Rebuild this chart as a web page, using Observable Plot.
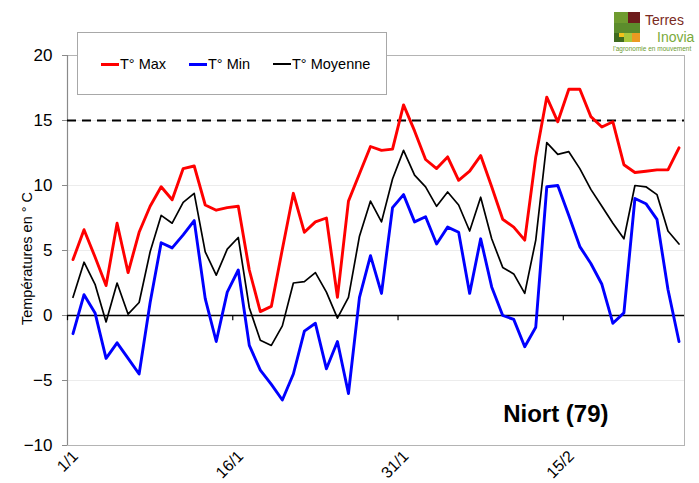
<!DOCTYPE html>
<html><head><meta charset="utf-8">
<script src="https://cdn.jsdelivr.net/npm/d3@7"></script>
<script src="https://cdn.jsdelivr.net/npm/@observablehq/plot@0.6"></script>
<style>
body{margin:0;background:#fff;font-family:"Liberation Sans",Arial,sans-serif;}
#wrap{position:relative;width:699px;height:483px;overflow:hidden;background:#fff;}
#legend{position:absolute;left:77px;top:32px;width:310px;height:63px;border:1px solid #a8a8a8;background:#fff;box-sizing:border-box;}
.item{position:absolute;top:23px;font-size:14.5px;line-height:16px;color:#000;white-space:nowrap;}
.sw{display:inline-block;width:18px;height:0;vertical-align:middle;margin-right:1px;position:relative;top:-1px;}
#logo{position:absolute;left:612px;top:10px;width:90px;height:46px;}
.blk{position:absolute;}
.lt{position:absolute;font-family:"Liberation Sans",Arial,sans-serif;white-space:nowrap;}
</style></head><body><div id="wrap"></div>
<script>
// ---- data ----
const startDate = "2016-01-01";
const endDate = "2016-02-26";
const tMax = [4.3,6.6,4.5,2.3,7.1,3.3,6.4,8.4,9.9,8.9,11.3,11.5,8.5,8.1,8.3,8.4,3.5,0.3,0.7,5.1,9.4,6.4,7.2,7.5,1.4,8.8,10.9,13.0,12.7,12.8,16.2,14.2,12.0,11.3,12.2,10.4,11.1,12.3,9.9,7.4,6.8,5.8,12.2,16.8,14.9,17.4,17.4,15.3,14.5,14.9,11.6,11.0,11.1,11.2,11.2,12.9];
const tMin = [-1.4,1.6,0.2,-3.3,-2.1,-3.3,-4.5,1.0,5.6,5.2,6.2,7.3,1.3,-2.0,1.8,3.5,-2.3,-4.2,-5.3,-6.5,-4.5,-1.2,-0.6,-4.1,-2.0,-6.0,1.4,4.6,1.7,8.3,9.3,7.2,7.6,5.5,6.8,6.4,1.7,5.9,2.2,0.0,-0.3,-2.4,-0.9,9.9,10.0,7.7,5.3,4.0,2.4,-0.6,0.2,9.0,8.6,7.4,2.0,-2.0];
const tMoy = [1.4,4.1,2.4,-0.5,2.5,0.1,1.0,4.9,7.7,7.1,8.7,9.4,4.9,3.1,5.1,6.0,0.6,-1.9,-2.3,-0.8,2.5,2.6,3.3,1.8,-0.2,1.4,6.1,8.8,7.2,10.5,12.7,10.8,9.9,8.4,9.5,8.5,6.5,9.1,5.9,3.7,3.2,1.7,5.8,13.3,12.4,12.6,11.3,9.7,8.4,7.1,5.9,10.0,9.9,9.3,6.5,5.5];
const seriesNames = ["T° Max","T° Min","T° Moyenne"];
const seriesColors = ["#ff0000","#0000ff","#000000"];
const tickDates = ["2016-01-01","2016-01-16","2016-01-31","2016-02-15"];
const yTicks = [-10,-5,0,5,10,15,20];
const threshold = [15];
const zeroLine = [0];
const yTitle = ["Températures en ° C"];
const station = ["Niort (79)"];

// ---- build table ----
const start = new Date(startDate);
const rows = tMax.map((v, i) => ({
  date: d3.utcHour.offset(d3.utcDay.offset(start, i), 12),
  tmax: v, tmin: tMin[i], tmoy: tMoy[i]
}));
const ticks = tickDates.map(s => new Date(s));
const fmt = d3.utcFormat("%-d/%-m");

const chart = Plot.plot({
  width: 699, height: 483,
  marginLeft: 67, marginRight: 15, marginTop: 55, marginBottom: 38,
  style: {fontFamily: "'Liberation Sans', Arial, sans-serif", background: "#fff", color: "#000"},
  x: {type: "utc", domain: [new Date(startDate), new Date(endDate)]},
  y: {domain: [-10, 20]},
  marks: [
    Plot.gridY(yTicks, {stroke: "#ececec", strokeOpacity: 1}),
    Plot.frame({stroke: "#b4b4b4"}),
    Plot.ruleX([new Date(startDate)], {stroke: "#8a8a8a", strokeWidth: 1.2}),
    Plot.axisY({ticks: yTicks, tickSize: 5, tickPadding: 10, fontSize: 17, stroke: "#8a8a8a", label: null}),
    Plot.axisX({ticks: ticks, tickFormat: fmt, tickRotate: -45, tickSize: 0, tickPadding: 8, dx: 8, fontSize: 16, label: null}),
    Plot.ruleY(threshold, {stroke: "#000", strokeWidth: 2, strokeDasharray: "9,6"}),
    Plot.ruleY(zeroLine, {stroke: "#000", strokeWidth: 1.6}),
    Plot.ruleX(ticks, {x: d => d, y1: 0, y2: -0.4, stroke: "#000", strokeWidth: 1.2}),
    Plot.line(rows, {x: "date", y: "tmoy", stroke: seriesColors[2], strokeWidth: 1.7}),
    Plot.line(rows, {x: "date", y: "tmin", stroke: seriesColors[1], strokeWidth: 2.9}),
    Plot.line(rows, {x: "date", y: "tmax", stroke: seriesColors[0], strokeWidth: 2.9}),
    Plot.text(yTitle, {frameAnchor: "left", rotate: -90, dx: -40, dy: 8, fontSize: 14.5, textAnchor: "middle"}),
    Plot.text(station, {frameAnchor: "bottom-right", textAnchor: "end", lineAnchor: "bottom", dx: -76, dy: -24, fontSize: 24, fontWeight: "bold"})
  ]
});

const wrap = document.getElementById("wrap");
wrap.appendChild(chart);

// legend
const lg = document.createElement("div");
lg.id = "legend";
const lefts = [23, 111, 195];
seriesNames.forEach((n, i) => {
  const it = document.createElement("div");
  it.className = "item";
  it.style.left = lefts[i] + "px";
  const sw = document.createElement("span");
  sw.className = "sw";
  sw.style.borderTop = (i < 2 ? 3 : 2) + "px solid " + seriesColors[i];
  it.appendChild(sw);
  it.appendChild(document.createTextNode(n));
  lg.appendChild(it);
});
wrap.appendChild(lg);

// logo
const logo = document.createElement("div");
logo.id = "logo";
logo.innerHTML = `
<div class="blk" style="left:2px;top:2px;width:14px;height:11px;background:#6f9b2f"></div>
<div class="blk" style="left:16px;top:2px;width:12px;height:11px;background:#6d1c1c"></div>
<div class="blk" style="left:2px;top:13px;width:26px;height:10px;background:#5c8c2c"></div>
<div class="blk" style="left:2px;top:23px;width:5px;height:9px;background:#3f6b1f"></div>
<div class="blk" style="left:7px;top:23px;width:5px;height:4px;background:#f2c21b"></div>
<div class="blk" style="left:7px;top:27px;width:5px;height:5px;background:#3f6b1f"></div>
<div class="blk" style="left:12px;top:23px;width:8px;height:9px;background:#a9c83c"></div>
<div class="blk" style="left:20px;top:23px;width:8px;height:9px;background:#ec9a22"></div>
<div class="lt" style="left:33px;top:2px;font-size:14px;line-height:16px;color:#7a2a22">Terres</div>
<div class="lt" style="left:45px;top:18.5px;font-size:14px;line-height:16px;color:#7aaa3a">Inovia</div>
<div class="lt" style="left:1px;top:34.5px;font-size:6.5px;line-height:7.5px;color:#6a9a30">l'agronomie en mouvement</div>`;
wrap.appendChild(logo);
</script></body></html>
